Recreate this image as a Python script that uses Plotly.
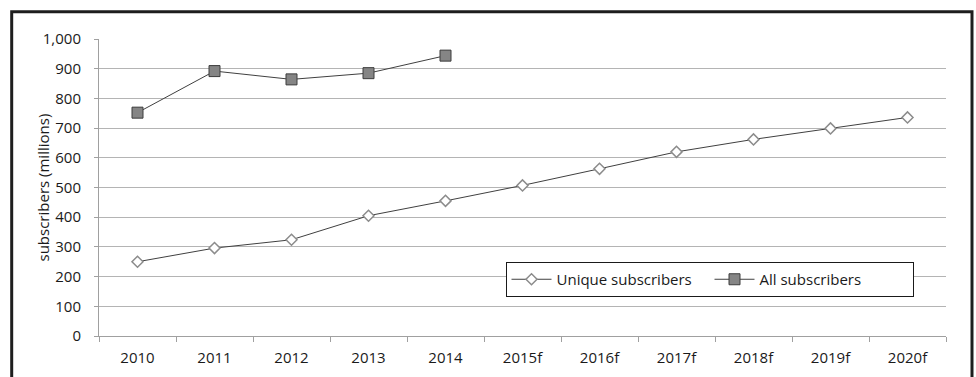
import plotly.graph_objects as go

# Subscriber counts by year (millions); "f" marks forecast years
years = ["2010", "2011", "2012", "2013", "2014", "2015f", "2016f",
         "2017f", "2018f", "2019f", "2020f"]
unique_subscribers = [250, 296, 324, 405, 455, 507, 563, 620, 662, 699, 736]
all_years = ["2010", "2011", "2012", "2013", "2014"]
all_subscribers = [752, 892, 864, 885, 944]

W, H = 976, 377
ML, MR, MT, MB = 99, 30, 39, 41
PW, PH = W - ML - MR, H - MT - MB

FONT = "Open Sans"
FS = 15
LINE = "#404040"
GRID = "#b4b4b4"


def px_x(x):
    return (x - ML) / PW


def px_y(y):
    return (H - MB - y) / PH


fig = go.Figure()

fig.add_trace(go.Scatter(
    x=years, y=unique_subscribers, name="Unique subscribers",
    mode="lines+markers",
    line=dict(color=LINE, width=1),
    marker=dict(symbol="diamond", size=8.5, color="white",
                line=dict(color="#8c8c8c", width=1.5)),
))

fig.add_trace(go.Scatter(
    x=all_years, y=all_subscribers, name="All subscribers",
    mode="lines+markers",
    line=dict(color=LINE, width=1),
    marker=dict(symbol="square", size=11, color="#858585",
                line=dict(color="#3c3c3c", width=1)),
))

# Outer frame around the chart (open at the bottom edge)
fig.add_shape(type="rect", xref="paper", yref="paper",
              x0=px_x(11.7), x1=px_x(972), y0=px_y(420), y1=px_y(11.7),
              line=dict(color="#1e1e1e", width=3), fillcolor="rgba(0,0,0,0)")

fig.add_annotation(
    text="subscribers (millions)", xref="paper", yref="paper",
    x=px_x(42), y=0.5, xanchor="center", yanchor="middle",
    textangle=-90, showarrow=False,
    font=dict(family=FONT, size=FS, color="#1a1a1a"),
)

fig.update_layout(
    width=W, height=H,
    margin=dict(l=ML, r=MR, t=MT, b=MB, autoexpand=False),
    paper_bgcolor="white", plot_bgcolor="white",
    font=dict(family=FONT, size=FS, color="#1a1a1a"),
    showlegend=True,
    legend=dict(
        orientation="h", x=px_x(709.5), y=px_y(279.5),
        xanchor="center", yanchor="middle",
        bordercolor="#1a1a1a", borderwidth=1, bgcolor="white",
        font=dict(family=FONT, size=FS, color="#1a1a1a"),
        itemwidth=40, entrywidth=148, entrywidthmode="pixels",
    ),
    xaxis=dict(
        type="category", categoryorder="array", categoryarray=years,
        range=[-0.5, len(years) - 0.5],
        showgrid=False, showline=True, linecolor="#a0a0a0", linewidth=1,
        ticks="outside", tickson="boundaries", ticklen=5,
        tickcolor="#a0a0a0", ticklabelstandoff=8,
        tickfont=dict(family=FONT, size=FS, color="#1a1a1a"),
    ),
    yaxis=dict(
        range=[0, 1000], dtick=100, tickformat=",d",
        showgrid=True, gridcolor=GRID, gridwidth=1,
        showline=True, linecolor="#a0a0a0", linewidth=1,
        ticks="outside", ticklen=4, tickcolor="#a0a0a0",
        ticklabelstandoff=10, zeroline=False,
        tickfont=dict(family=FONT, size=FS, color="#1a1a1a"),
    ),
)

fig.write_html("out.html")
